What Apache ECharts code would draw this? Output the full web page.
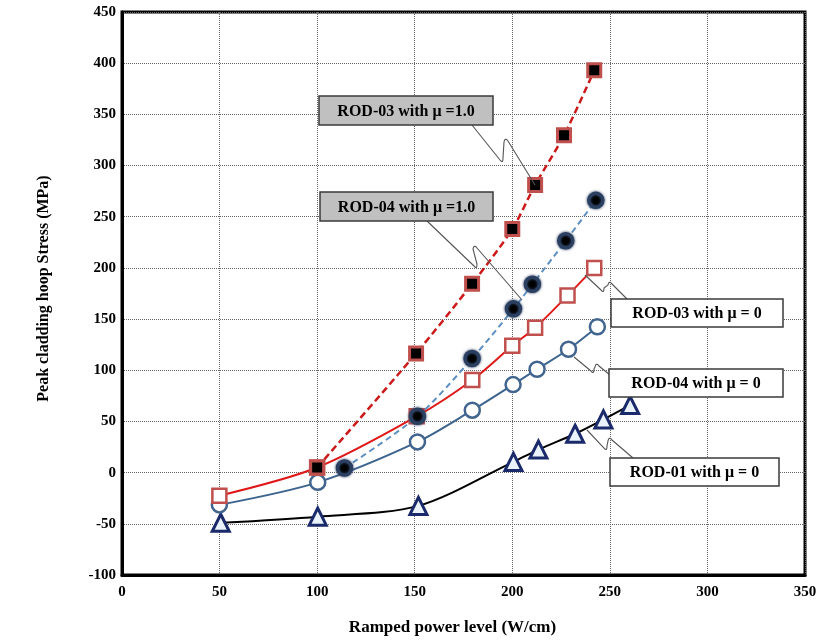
<!DOCTYPE html>
<html>
<head>
<meta charset="utf-8">
<script src="https://cdn.jsdelivr.net/npm/echarts@6/dist/echarts.min.js"></script>
<style>html,body{margin:0;padding:0;background:#fff}#c{width:821px;height:641px}</style>
</head>
<body>
<div id="c"></div>
<script>
// Data (x: ramped power W/cm, y: peak cladding hoop stress MPa)
const rod01_mu0 = [[50.6,-49],[100.3,-43],[151.9,-32.5],[200.6,10.5],[213.4,22.5],[232.2,38],[246.7,52],[260.4,66]];
const rod04_mu0 = [[49.9,-31.5],[100.3,-9.5],[151.4,30],[179.5,61],[200.4,86],[212.7,101],[228.8,120.5],[243.6,142.5]];
const rod03_mu0 = [[49.9,-22.5],[100,5],[151,55],[179.5,90.5],[200,124],[211.7,141.5],[228.3,173],[242,200]];
const rod04_mu1 = [[114,4.5],[151.4,55],[179.4,111.5],[200.6,160],[210.3,184],[227.4,226.5],[242.8,266]];
const rod03_mu1 = [[100,5],[150.7,116.5],[179.4,184.5],[200,238],[211.7,281],[226.5,329.5],[242,393]];
const xTicks = [0,50,100,150,200,250,300,350];
const yTicks = [-100,-50,0,50,100,150,200,250,300,350,400,450];
const xName = 'Ramped power level (W/cm)';
const yName = 'Peak cladding hoop Stress (MPa)';
const notes = ['ROD-03 with \u03bc =1.0','ROD-04 with \u03bc =1.0','ROD-03 with \u03bc = 0','ROD-04 with \u03bc = 0','ROD-01 with \u03bc = 0'];

const serif = '"Liberation Serif", "DejaVu Serif", serif';
const chart = echarts.init(document.getElementById('c'));

function box(x, y, w, h, fill, text) {
  return {
    type: 'group', z: 100,
    children: [
      {type:'rect', z:100, shape:{x:x, y:y, width:w, height:h}, style:{fill:fill, stroke:'#3a3a3a', lineWidth:1.5}},
      {type:'text', z:101, x:x + w/2, y:y + h/2 + 1, style:{text:text, font:'bold 16px ' + serif, fill:'#000', align:'center', verticalAlign:'middle'}}
    ]
  };
}
function quad(a, c, b, out) {
  for (let i = 1; i <= 6; i++) {
    const t = i / 6, u = 1 - t;
    out.push([u*u*a[0] + 2*u*t*c[0] + t*t*b[0], u*u*a[1] + 2*u*t*c[1] + t*t*b[1]]);
  }
}
// leader: start -> bottom of hook -> top of hook -> end, with rounded hook corners
function leader(p0, p1, p2, p3) {
  const pts = [p0, [p1[0]-2, p1[1]-2]];
  quad([p1[0]-2, p1[1]-2], [p1[0]+1, p1[1]+2], [p1[0]+1, p1[1]-4], pts);
  pts.push([p2[0]-1, p2[1]+3]);
  quad([p2[0]-1, p2[1]+3], [p2[0], p2[1]-2], [p2[0]+3, p2[1]+2], pts);
  pts.push(p3);
  return {type:'polyline', z:99, shape:{points:pts}, style:{stroke:'#555', lineWidth:1.1, fill:null}};
}

chart.setOption({
  animation: false,
  grid: {left:122, right:16, top:12, bottom:63, show:true, borderColor:'#000', borderWidth:3, backgroundColor:'transparent'},
  xAxis: {
    type:'value', min:0, max:350, interval:50,
    name: xName, nameLocation:'middle', nameGap:44,
    nameTextStyle:{fontFamily:serif, fontWeight:'bold', fontSize:17, color:'#000', padding:[0,22,0,0]},
    axisLine:{show:true, onZero:false, lineStyle:{color:'#000', width:3}},
    axisTick:{show:false},
    axisLabel:{fontFamily:serif, fontWeight:'bold', fontSize:15, color:'#000', margin:10,
      formatter: v => xTicks.includes(v) ? String(v) : ''},
    splitLine:{show:true, lineStyle:{type:'dotted', color:'#666', width:1}}
  },
  yAxis: {
    type:'value', min:-100, max:450, interval:50,
    name: yName, nameLocation:'middle', nameGap:70,
    nameTextStyle:{fontFamily:serif, fontWeight:'bold', fontSize:16, color:'#000', padding:[0,0,0,10]},
    axisLine:{show:true, onZero:false, lineStyle:{color:'#000', width:3}},
    axisTick:{show:false},
    axisLabel:{fontFamily:serif, fontWeight:'bold', fontSize:15, color:'#000', margin:6,
      formatter: v => yTicks.includes(v) ? String(v) : ''},
    splitLine:{show:true, lineStyle:{type:'dotted', color:'#666', width:1}}
  },
  series: [
    {name:'ROD-01 mu=0', type:'line', data:rod01_mu0, smooth:0.3, symbol:'triangle', symbolSize:17,
      lineStyle:{color:'#000', width:2}, itemStyle:{color:'#eaf2fb', borderColor:'#1b2a6a', borderWidth:3}, z:2},
    {name:'ROD-04 mu=0', type:'line', data:rod04_mu0, smooth:0.3, symbol:'circle', symbolSize:15,
      lineStyle:{color:'#3d648e', width:2}, itemStyle:{color:'#fff', borderColor:'#41658f', borderWidth:2.5}, z:3},
    {name:'ROD-03 mu=0', type:'line', data:rod03_mu0, smooth:0.3, symbol:'rect', symbolSize:14,
      lineStyle:{color:'#e01818', width:2}, itemStyle:{color:'#fff', borderColor:'#c0504d', borderWidth:2.5}, z:4},
    {name:'ROD-04 mu=1.0', type:'line', data:rod04_mu1, smooth:0.3, symbol:'circle', symbolSize:14,
      lineStyle:{color:'#5d8fc2', width:2, type:[6,4]}, itemStyle:{color:'#000', borderColor:'#2b3f60', borderWidth:3.5, shadowBlur:3, shadowColor:'#2b3f60'}, z:5},
    {name:'ROD-03 mu=1.0', type:'line', data:rod03_mu1, smooth:0.3, symbol:'rect', symbolSize:13,
      lineStyle:{color:'#cc1a1a', width:2.5, type:[7,4]}, itemStyle:{color:'#000', borderColor:'#c0504d', borderWidth:3}, z:6}
  ],
  graphic: [
    leader([472,125],[502,162],[505,139],[535,185]),
    box(319, 96, 174, 29, '#c0c0c0', notes[0]),
    leader([427,221],[476,268],[474,246],[522,300]),
    box(320, 192, 173, 29, '#c0c0c0', notes[1]),
    leader([585,275],[603,292],[609,282],[627,299]),
    box(611, 299, 172, 28, '#fff', notes[2]),
    leader([574,357],[593,373],[596,364],[610,375]),
    box(609, 369, 174, 28, '#fff', notes[3]),
    leader([587,430],[606,450],[609,438],[633,458]),
    box(610, 458, 169, 28, '#fff', notes[4])
  ]
});
</script>
</body>
</html>
